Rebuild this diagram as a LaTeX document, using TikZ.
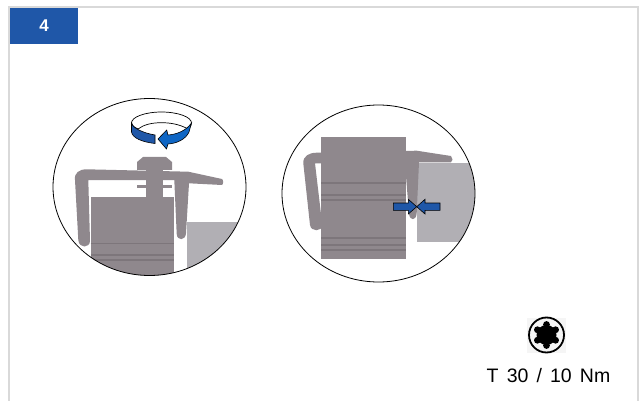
\documentclass[tikz,border=0pt]{standalone}
\usepackage{fontspec}
\setmainfont{Liberation Sans}
\newfontfamily\torquefont[WordSpace=1.5]{Liberation Sans}
\definecolor{stepblue}{HTML}{1F57A8}
\definecolor{turnblue}{HTML}{0F66C4}
\definecolor{metal}{HTML}{8F888D}
\definecolor{metalline}{HTML}{7D767B}
\definecolor{plate}{HTML}{B1AFB4}
\definecolor{framegray}{HTML}{D9D9D9}
\tikzset{
  lens/.style={draw=black,line width=0.8pt},
  arrowblue/.style={draw=black,line width=0.6pt,fill=stepblue},
  groove/.style={metalline,line width=1.2pt}
}
\begin{document}
\begin{tikzpicture}[x=1pt,y=-1pt]
\useasboundingbox (0,0) rectangle (640,401);
\draw[framegray,line width=2pt] (9,401) -- (9,7) -- (638,7) -- (638,401);
\node[fill=stepblue,minimum width=68pt,minimum height=36pt,inner sep=0pt,text=white,font=\fontsize{17}{20}\selectfont\bfseries] (stepbox) at (44,26) {4};
\begin{scope}
\clip (149.5,187) ellipse (96.5 and 88.5);
\fill[plate] (186.7,222.3) rectangle (250,280);
\fill[metal] (90.7,197) rectangle (174.3,280);
\draw[groove] (90.7,243.3) -- (174.3,243.3);
\draw[groove] (90.7,255) -- (174.3,255);
\draw[groove] (90.7,260) -- (174.3,260);
\fill[metal] (146,170) rectangle (163,197);
\fill[metal] (137,185) rectangle (172,188);
\fill[metal] (137,170) -- (137,162) -- (143,157) -- (166,157) -- (172,162) -- (172,170) -- cycle;
\fill[metal] (75,180) .. controls (74,173) and (79,169.3) .. (86.7,169.3) -- (188.3,171.7) -- (222,179) .. controls (223.5,180) and (223.5,184) .. (222,185) -- (189,183.3) -- (186,233.3) .. controls (185.5,241) and (177,241) .. (176.7,234) -- (174.3,180) -- (88.3,180) -- (90,241) .. controls (90,248) and (79,249) .. (78.3,240) -- cycle;
\end{scope}
\draw[lens] (149.5,187) ellipse (96.5 and 88.5);
\draw[black,line width=0.7pt,fill=white] (131.5,123) .. controls (131.5,117) and (145,112) .. (161.5,112) .. controls (178,112) and (191.5,117) .. (191.5,123) .. controls (191.5,126) and (190,128) .. (188,129) .. controls (180,124.5) and (171,122.7) .. (161.5,122.7) .. controls (152,122.7) and (144,124.5) .. (138,129) .. controls (134,127) and (131.5,125.5) .. (131.5,123) -- cycle;
\draw[arrowblue] (131.5,123) .. controls (132.5,128) and (143,133) .. (155,135) -- (155,143.5) .. controls (142,142) and (132.5,138) .. (131.5,132) -- cycle;
\draw[black,line width=0.6pt,fill=turnblue] (191.5,123) -- (189,132) .. controls (186,139) and (177,143.5) .. (168,144) -- (166.5,149) -- (158,139) -- (166.7,130) -- (168,135) .. controls (176,134.5) and (186,131) .. (191.5,123) -- cycle;
\begin{scope}
\clip (378.5,193.5) ellipse (96.5 and 88.5);
\fill[plate] (417.3,162.7) rectangle (480,242.3);
\fill[metal] (321.3,137.3) rectangle (405.7,259);
\foreach \y in {183,195,200,238,245,250} {
  \draw[groove] (321.3,\y) -- (405.7,\y);
}
\fill[metal] (303.3,163.3) .. controls (303,156) and (309,152.7) .. (316.7,152.7) -- (416.7,150.7) -- (451,156) .. controls (453,158) and (453,161.5) .. (451,162.3) -- (419,162.3) -- (416.7,213.3) .. controls (416,221) and (410,221) .. (409,214) -- (405,163.3) -- (315,163.3) -- (322.3,225) .. controls (322,232) and (311,232) .. (310,225) -- cycle;
\end{scope}
\draw[lens] (378.5,193.5) ellipse (96.5 and 88.5);
\draw[arrowblue] (393.3,203) -- (408.3,203) -- (408.3,199.3) -- (416.7,206.7) -- (408.3,214) -- (408.3,210.3) -- (393.3,210.3) -- cycle;
\draw[arrowblue] (440,203) -- (425,203) -- (425,199.3) -- (416.7,206.7) -- (425,214) -- (425,210.3) -- (440,210.3) -- cycle;
\fill[black!4] (527,318) rectangle (566,353);
\draw[black,line width=1.8pt] (546.5,335) circle (17.5);
\fill[black] (546.5,335) circle (10);
\foreach \a in {30,90,...,330} {
  \fill[black] (546.5,335) ++(\a:-10.5) circle (3.4);
}
\node[inner sep=0pt,font=\fontsize{19.5}{22}\torquefont] (torque) at (548.5,376) {T 30 / 10 Nm};
\end{tikzpicture}
\end{document}
